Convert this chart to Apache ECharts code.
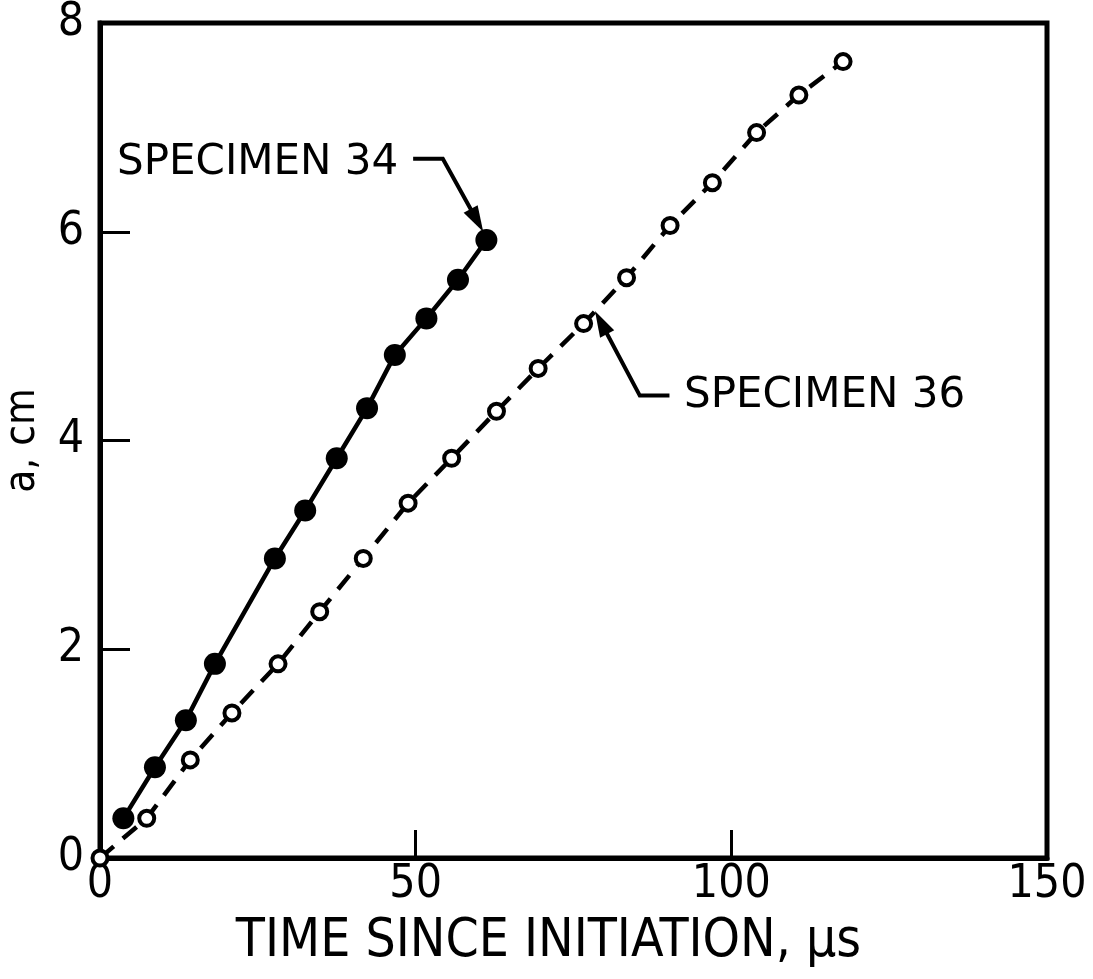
<!DOCTYPE html>
<html>
<head>
<meta charset="utf-8">
<script src="https://cdn.jsdelivr.net/npm/echarts@6/dist/echarts.min.js"></script>
<style>
html,body{margin:0;padding:0;background:#fff;}
#c{width:1093px;height:979px;}
</style>
</head>
<body>
<div id="c"></div>
<script>
// ---- data ----
const xTicks = [0, 50, 100, 150];
const yTicks = [0, 2, 4, 6, 8];
const time34 = [3.7, 8.7, 13.6, 18.2, 27.7, 32.5, 37.5, 42.3, 46.7, 51.7, 56.7, 61.2];
const a34    = [0.38, 0.87, 1.32, 1.86, 2.87, 3.33, 3.83, 4.31, 4.82, 5.17, 5.54, 5.92];
const time36 = [0, 7.4, 14.3, 20.9, 28.2, 34.8, 41.7, 48.8, 55.7, 62.8, 69.4, 76.6, 83.4, 90.3, 97.0, 104.0, 110.7, 117.7];
const a36    = [0, 0.38, 0.94, 1.39, 1.86, 2.36, 2.87, 3.40, 3.83, 4.28, 4.69, 5.12, 5.56, 6.06, 6.47, 6.95, 7.31, 7.63];
const xTitle = 'TIME SINCE INITIATION, \u03bcs';
const yTitle = 'a, cm';
// annotation anchors (data coordinates)
const label34 = 'SPECIMEN 34';
const label34At = [2.7, 6.66];
const leader34 = [[49.6, 6.70], [54.3, 6.70], [60.7, 6.0]];
const label36 = 'SPECIMEN 36';
const label36At = [92.5, 4.43];
const leader36 = [[90.2, 4.43], [85.5, 4.43], [78.4, 5.24]];

const FONT = "'DejaVu Sans Condensed','DejaVu Sans',sans-serif";

const chart = echarts.init(document.getElementById('c'), null, {renderer: 'canvas'});

function zip(xs, ys){ return xs.map((x, i) => [x, ys[i]]); }

chart.setOption({
  backgroundColor: '#fff',
  animation: false,
  grid: {left: 100, right: 46, top: 23, bottom: 121, containLabel: false, outerBoundsMode: 'none',
         show: true, borderColor: '#000', borderWidth: 5, backgroundColor: 'transparent'},
  xAxis: {
    type: 'value', min: 0, max: 150, interval: 50,
    name: xTitle, nameLocation: 'middle', nameGap: 58,
    nameTextStyle: {fontFamily: FONT, fontSize: 53, color: '#000', padding: [0, 50, 0, 0]},
    axisLine: {lineStyle: {color: '#000', width: 5}},
    axisTick: {inside: true, length: 28, lineStyle: {color: '#000', width: 3}},
    axisLabel: {margin: 4, fontFamily: FONT, fontSize: 46, color: '#000', formatter: v => xTicks.includes(v) ? String(v) : ''},
    splitLine: {show: false}
  },
  yAxis: {
    type: 'value', min: 0, max: 8, interval: 2,
    name: yTitle, nameLocation: 'middle', nameGap: 56, nameRotate: 90,
    nameTextStyle: {fontFamily: FONT, fontSize: 42, color: '#000'},
    axisLine: {lineStyle: {color: '#000', width: 5}},
    axisTick: {inside: true, length: 30, lineStyle: {color: '#000', width: 3}},
    axisLabel: {margin: 16, fontFamily: FONT, fontSize: 46, color: '#000', formatter: v => yTicks.includes(v) ? String(v) : ''},
    splitLine: {show: false}
  },
  series: [
    {
      name: 'SPECIMEN 34', type: 'line', data: zip(time34, a34), clip: false,
      symbol: 'circle', symbolSize: 22,
      lineStyle: {color: '#000', width: 4.5},
      itemStyle: {color: '#000', borderColor: '#000', borderWidth: 0},
      z: 3
    },
    {
      name: 'SPECIMEN 36', type: 'line', data: zip(time36, a36), clip: false,
      symbol: 'circle', symbolSize: 15, showAllSymbol: true,
      lineStyle: {color: '#000', width: 4.5, type: [18, 12]},
      itemStyle: {color: '#fff', borderColor: '#000', borderWidth: 4},
      z: 4
    }
  ]
});

function px(p){ return chart.convertToPixel({gridIndex: 0}, p); }

function leader(points){
  const pts = points.map(px);
  const T = pts[pts.length - 1], P = pts[pts.length - 2];
  let dx = T[0] - P[0], dy = T[1] - P[1];
  const len = Math.hypot(dx, dy); dx /= len; dy /= len;
  const L = 26, W = 16;
  const base = [T[0] - dx * L, T[1] - dy * L];
  const nx = -dy, ny = dx;
  const linePts = pts.slice(0, -1).concat([[base[0] + dx * 4, base[1] + dy * 4]]);
  return [
    {type: 'polyline', shape: {points: linePts}, style: {stroke: '#000', lineWidth: 4, fill: null}, z: 10},
    {type: 'polygon', shape: {points: [T, [base[0] + nx * W / 2, base[1] + ny * W / 2], [base[0] - nx * W / 2, base[1] - ny * W / 2]]}, style: {fill: '#000'}, z: 10}
  ];
}

function label(text, at){
  const p = px(at);
  return {type: 'text', x: p[0], y: p[1], z: 10,
    style: {text: text, font: "42px 'DejaVu Sans'", fill: '#000', textAlign: 'left', textVerticalAlign: 'middle', align: 'left', verticalAlign: 'middle'}};
}

chart.setOption({
  graphic: [].concat(
    leader(leader34), [label(label34, label34At)],
    leader(leader36), [label(label36, label36At)]
  )
});
</script>
</body>
</html>
